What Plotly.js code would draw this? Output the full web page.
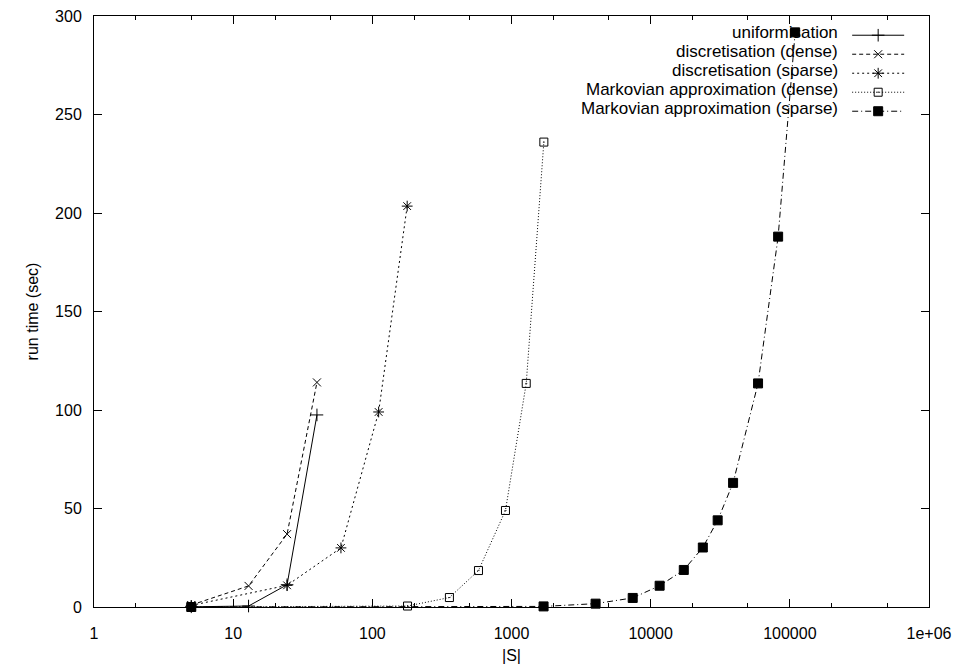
<!DOCTYPE html>
<html>
<head>
<meta charset="utf-8">
<script src="https://cdn.plot.ly/plotly-3.0.1.min.js"></script>
<style>
html,body{margin:0;padding:0;background:#fff;}
#chart{width:959px;height:667px;}
</style>
</head>
<body>
<div id="chart"></div>
<script>
// ---- data ----
var uniX = [5, 12.9, 24.4, 40];
var uniY = [0.1, 0.5, 11.3, 97.5];

var discDenseX = [5, 12.9, 24.4, 40];
var discDenseY = [1, 10.7, 37, 114];

var discSparseX = [5, 24.4, 59.5, 111, 178];
var discSparseY = [0.8, 11, 30, 99, 203.5];

var markDenseX = [5, 179, 358, 579, 905, 1276, 1708];
var markDenseY = [0, 0.5, 4.8, 18.5, 49, 113.5, 236];

var markSparseX = [5, 1700, 4020, 7430, 11600, 17300, 23700, 30300, 39100, 59100, 82400, 109200];
var markSparseY = [0, 0.3, 1.7, 4.6, 10.8, 18.8, 30.2, 44, 63, 113.5, 188, 291.7];

var seriesNames = ["uniformisation", "discretisation (dense)", "discretisation (sparse)",
  "Markovian approximation (dense)", "Markovian approximation (sparse)"];

var xTickVals = [1, 10, 100, 1000, 10000, 100000, 1000000];
var xTickText = ["1", "10", "100", "1000", "10000", "100000", "1e+06"];
var yTickVals = [0, 50, 100, 150, 200, 250, 300];

var FONT = "Liberation Sans, Arial, Helvetica, sans-serif";
var FS = 16;

function tr(x, y, dash, symbol, msize) {
  return {
    x: x, y: y, name: "", type: "scatter", mode: "lines+markers",
    cliponaxis: false,
    line: {color: "#000", width: 1, dash: dash},
    marker: {symbol: symbol, size: msize, color: "#000",
             line: {color: "#000", width: 1}}
  };
}

var data = [
  tr(uniX, uniY, "solid", "cross-thin", 9),
  tr(discDenseX, discDenseY, "4px,3px", "x-thin", 8),
  tr(discSparseX, discSparseY, "2px,3px", "asterisk", 9),
  tr(markDenseX, markDenseY, "1px,2px", "square-open-dot", 8),
  tr(markSparseX, markSparseY, "6px,3px,1px,3px", "square", 9)
];

// gnuplot-style key: right-aligned labels to the left of the samples
var keyTop = 0.9715, keyStep = 0.0318;
var annotations = seriesNames.map(function (n, i) {
  return {
    text: n, xref: "paper", yref: "paper",
    x: 0.8925, y: keyTop - i * keyStep,
    xanchor: "right", yanchor: "middle", showarrow: false,
    borderpad: 0,
    font: {family: FONT, size: 17, color: "#000"}
  };
});

var layout = {
  width: 959, height: 667,
  margin: {l: 94, r: 30, t: 16, b: 60},
  paper_bgcolor: "#fff", plot_bgcolor: "#fff",
  font: {family: FONT, size: FS, color: "#000"},
  showlegend: true,
  legend: {
    x: 0.902, y: 0.992, xanchor: "left", yanchor: "top",
    bgcolor: "rgba(0,0,0,0)", borderwidth: 0,
    font: {family: FONT, size: 12, color: "#000"},
    itemwidth: 52, tracegroupgap: 0
  },
  annotations: annotations,
  xaxis: {
    type: "log", range: [0, 6],
    tickvals: xTickVals, ticktext: xTickText,
    ticks: "inside", ticklen: 8, tickwidth: 1, tickcolor: "#000",
    minor: {ticks: "inside", ticklen: 4, tickwidth: 1, tickcolor: "#000", showgrid: false},
    showgrid: false, zeroline: false,
    showline: true, linecolor: "#000", linewidth: 1, mirror: "ticks",
    ticklabelstandoff: 12,
    tickfont: {family: FONT, size: FS, color: "#000"},
    title: {text: "|S|", font: {family: FONT, size: FS, color: "#000"}, standoff: 8}
  },
  yaxis: {
    range: [0, 300],
    tickvals: yTickVals,
    ticks: "inside", ticklen: 8, tickwidth: 1, tickcolor: "#000",
    showgrid: false, zeroline: false,
    showline: true, linecolor: "#000", linewidth: 1, mirror: "ticks",
    ticklabelstandoff: 8,
    tickfont: {family: FONT, size: FS, color: "#000"},
    title: {text: "run time (sec)", font: {family: FONT, size: FS, color: "#000"}, standoff: 12}
  }
};

Plotly.newPlot("chart", data, layout, {staticPlot: true, displayModeBar: false});
</script>
</body>
</html>
